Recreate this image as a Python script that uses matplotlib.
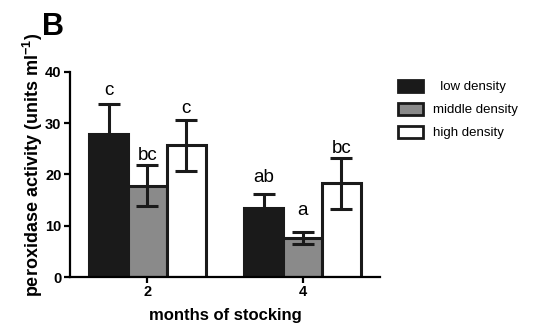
import matplotlib
matplotlib.use("Agg")
import matplotlib.pyplot as plt
import numpy as np
from matplotlib.patches import Patch

months = ["2", "4"]
series = ["low density", "middle density", "high density"]
colors = ["#1a1a1a", "#8a8a8a", "#ffffff"]
means = {
    "low density": [27.9, 13.5],
    "middle density": [17.8, 7.6],
    "high density": [25.7, 18.3],
}
errs = {
    "low density": [5.9, 2.7],
    "middle density": [4.0, 1.2],
    "high density": [5.0, 5.0],
}
letters = {
    "low density": ["c", "ab"],
    "middle density": ["bc", "a"],
    "high density": ["c", "bc"],
}
letter_y = {
    "low density": [35.5, 18.5],
    "middle density": [22.8, 12.1],
    "high density": [32.0, 24.2],
}

plt.rcParams['font.family'] = ['Liberation Sans', 'DejaVu Sans']
plt.rcParams['mathtext.fontset'] = 'custom'
plt.rcParams['mathtext.bf'] = 'Liberation Sans:bold'
fig = plt.figure(figsize=(5.37, 3.24), dpi=100)
ax = fig.add_axes([0.130, 0.145, 0.578, 0.633])

x = np.arange(len(months))
w = 0.25
for i, s in enumerate(series):
    xs = x + (i - 1) * w
    ax.bar(xs, means[s], width=w, color=colors[i], edgecolor="#1a1a1a", linewidth=2.2, zorder=2)
    ax.errorbar(xs, means[s], yerr=errs[s], fmt="none", ecolor="#1a1a1a",
                elinewidth=2.2, capsize=8, capthick=2.2, zorder=3)
    for xi, ly, lab in zip(xs, letter_y[s], letters[s]):
        ax.text(xi, ly, lab, ha="center", va="baseline", fontsize=13.5)

ax.set_xlim(-0.5, 1.5)
ax.set_ylim(0, 40)
ax.set_yticks([0, 10, 20, 30, 40])
ax.set_xticks(x)
ax.set_xticklabels(months)
for sp in ["top", "right"]:
    ax.spines[sp].set_visible(False)
for sp in ["left", "bottom"]:
    ax.spines[sp].set_linewidth(1.6)
ax.tick_params(axis="both", width=1.6, length=4, labelsize=10.5, pad=2)
for lab in ax.get_xticklabels() + ax.get_yticklabels():
    lab.set_fontweight("bold")
ax.set_ylabel("peroxidase activity (units ml$^{\\mathbf{-1}}$)", fontsize=13, fontweight="bold")
ax.yaxis.set_label_coords(-0.081, 0.546)
ax.set_xlabel("months of stocking", fontsize=12, fontweight="bold", labelpad=6)

handles = [Patch(facecolor=c, edgecolor="#1a1a1a", linewidth=2) for c in colors]
fig.legend(handles, ["  low density", "middle density", "high density"], loc="upper left",
           bbox_to_anchor=(398 / 537, 1 - 80 / 324), frameon=False,
           fontsize=9.5, handlelength=1.9, handleheight=1.0, labelspacing=0.72,
           handletextpad=0.75, borderpad=0, borderaxespad=0)

fig.text(0.078, 0.962, "B", fontsize=22, fontweight="bold", va="top", ha="left")

fig.savefig("out.png", dpi=100)
